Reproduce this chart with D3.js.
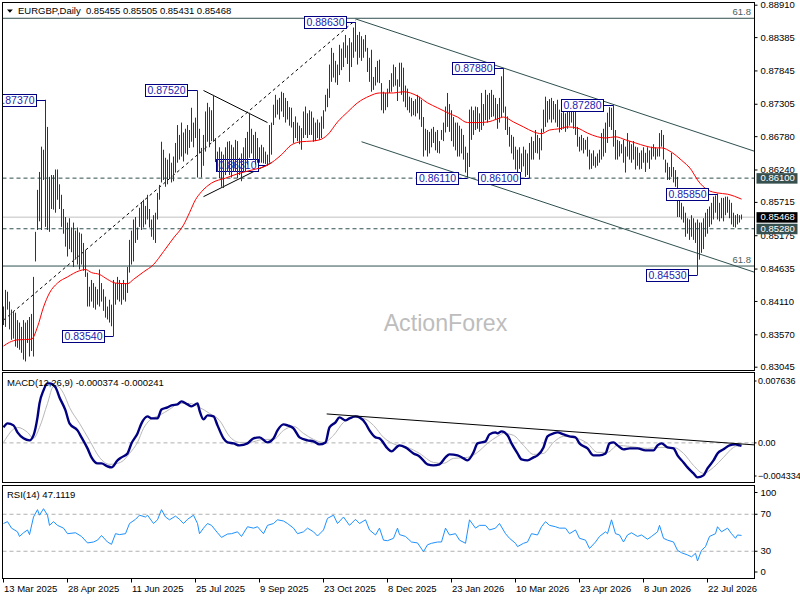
<!DOCTYPE html>
<html><head><meta charset="utf-8">
<script src="https://cdn.jsdelivr.net/npm/d3@7/dist/d3.min.js"></script>
<style>body{margin:0;background:#fff}svg{display:block}</style>
</head><body><svg id="c" width="800" height="600"></svg>
<script>
// ---------------- DATA ----------------
const symbol = "EURGBP,Daily";
const lastOHLC = [0.85455, 0.85505, 0.85431, 0.85468];
// daily highs / lows in pips (price * 10000)
const highPips = [
8402,8429,8426,8410,8397,8395,8392,8380,8376,8369,
8380,8376,8380,8385,8390,8450,8523,8591,8620,8661,
8656,8737,8693,8612,8615,8615,8624,8624,8600,8583,
8560,8547,8538,8545,8530,8538,8525,8530,8522,8520,
8505,8494,8457,8434,8445,8440,8434,8430,8462,8440,
8430,8418,8402,8413,8405,8445,8440,8450,8445,8440,
8445,8440,8466,8510,8525,8543,8547,8530,8562,8570,
8575,8565,8583,8560,8543,8550,8554,8586,8599,8669,
8656,8643,8640,8650,8635,8645,8667,8696,8680,8700,
8684,8690,8696,8688,8724,8700,8708,8752,8690,8659,
8680,8718,8732,8725,8720,8745,8675,8653,8660,8653,
8648,8660,8669,8670,8664,8660,8672,8670,8643,8650,
8660,8675,8685,8716,8690,8680,8685,8675,8660,8664,
8660,8653,8648,8696,8700,8729,8745,8737,8740,8750,
8748,8740,8735,8725,8724,8701,8710,8700,8695,8691,
8718,8726,8715,8720,8718,8708,8700,8705,8700,8710,
8720,8745,8755,8794,8821,8813,8800,8794,8826,8820,
8830,8842,8825,8837,8830,8854,8863,8842,8847,8840,
8835,8842,8821,8805,8818,8774,8790,8800,8802,8764,
8750,8748,8755,8769,8780,8794,8790,8770,8797,8797,
8789,8760,8755,8742,8740,8735,8738,8745,8742,8737,
8709,8690,8688,8685,8690,8693,8685,8688,8670,8688,
8700,8726,8748,8730,8720,8709,8700,8700,8695,8690,
8680,8661,8651,8721,8726,8720,8726,8725,8715,8748,
8730,8753,8745,8748,8753,8745,8740,8730,8740,8775,
8788,8726,8710,8693,8680,8677,8661,8656,8660,8650,
8661,8656,8650,8667,8677,8670,8688,8680,8675,8690,
8721,8742,8735,8738,8740,8735,8730,8737,8721,8716,
8725,8715,8725,8720,8721,8725,8725,8693,8677,8680,
8675,8672,8677,8656,8650,8655,8645,8650,8656,8683,
8690,8700,8716,8725,8724,8728,8688,8672,8670,8665,
8672,8661,8683,8670,8665,8670,8661,8660,8651,8655,
8660,8651,8660,8655,8661,8665,8660,8658,8683,8688,
8680,8640,8635,8628,8651,8628,8623,8612,8586,8570,
8564,8554,8545,8543,8550,8545,8538,8543,8538,8538,
8545,8554,8560,8564,8570,8580,8582,8585,8570,8578,
8578,8580,8580,8575,8570,8554,8550,8552,8550,8551];
const lowPips = [
8372,8369,8397,8365,8348,8350,8337,8335,8332,8327,
8316,8313,8343,8321,8330,8321,8475,8526,8540,8526,
8607,8531,8526,8523,8560,8559,8554,8575,8560,8531,
8520,8499,8483,8495,8490,8466,8478,8470,8462,8470,
8460,8450,8402,8402,8410,8400,8397,8405,8402,8410,
8395,8384,8381,8376,8370,8354,8405,8413,8410,8405,
8413,8410,8424,8457,8470,8475,8505,8510,8531,8526,
8530,8535,8543,8530,8515,8510,8505,8543,8575,8603,
8607,8596,8600,8610,8603,8605,8619,8635,8640,8645,
8637,8650,8648,8659,8669,8660,8675,8611,8650,8611,
8630,8653,8669,8660,8670,8669,8636,8620,8610,8596,
8594,8615,8620,8615,8611,8620,8620,8610,8615,8605,
8620,8620,8632,8643,8650,8640,8632,8635,8635,8635,
8634,8633,8631,8635,8648,8696,8708,8713,8705,8718,
8709,8700,8705,8695,8692,8667,8675,8670,8665,8656,
8675,8680,8675,8680,8680,8669,8670,8675,8672,8675,
8690,8718,8725,8740,8766,8773,8765,8761,8777,8785,
8790,8805,8795,8766,8790,8805,8815,8794,8805,8800,
8805,8815,8782,8766,8750,8753,8760,8765,8764,8720,
8715,8720,8725,8748,8750,8758,8760,8735,8758,8745,
8734,8725,8720,8716,8710,8712,8710,8715,8705,8693,
8645,8655,8645,8650,8660,8667,8655,8651,8650,8672,
8670,8684,8693,8685,8670,8661,8655,8645,8645,8650,
8640,8619,8611,8628,8672,8680,8688,8690,8685,8688,
8695,8704,8700,8705,8709,8710,8705,8690,8700,8709,
8716,8688,8680,8661,8650,8640,8624,8619,8625,8620,
8629,8612,8615,8610,8640,8640,8651,8650,8640,8655,
8684,8693,8700,8705,8700,8705,8700,8693,8684,8688,
8690,8685,8690,8695,8700,8690,8680,8661,8653,8655,
8650,8656,8645,8624,8625,8630,8627,8630,8635,8640,
8645,8651,8667,8693,8688,8661,8640,8640,8645,8650,
8635,8619,8645,8640,8635,8640,8624,8630,8624,8625,
8635,8620,8635,8625,8640,8645,8640,8645,8645,8661,
8640,8619,8607,8607,8612,8603,8596,8547,8547,8543,
8538,8515,8520,8510,8515,8510,8505,8453,8478,8489,
8495,8515,8520,8531,8535,8543,8554,8543,8540,8545,
8540,8550,8554,8545,8535,8531,8530,8535,8538,8543];
// moving average (red) read at bar indices: [bar, pips]
const maPips = [[0,8338],[3,8344],[7,8348],[14,8349],[17,8369],[20,8401],[23,8424],[27,8440],[32,8450],[38,8460],[41,8462],[44,8457],[48,8454],[52,8446],[56,8440],[62,8439],[65,8446],[70,8458],[75,8470],[80,8491],[85,8513],[90,8534],[93,8554],[96,8575],[99,8588],[104,8602],[111,8610],[117,8617],[124,8623],[132,8631],[139,8648],[144,8664],[149,8669],[154,8670],[158,8672],[162,8680],[167,8701],[172,8717],[177,8732],[183,8743],[188,8748],[195,8748],[200,8750],[207,8743],[212,8732],[217,8724],[222,8716],[227,8709],[232,8700],[237,8700],[242,8701],[247,8706],[250,8709],[255,8701],[260,8693],[265,8685],[269,8682],[273,8688],[278,8690],[282,8693],[287,8691],[292,8683],[297,8677],[301,8675],[306,8677],[311,8672],[316,8667],[321,8662],[326,8659],[329,8659],[334,8652],[339,8639],[344,8623],[347,8607],[352,8591],[357,8586],[362,8584],[369,8576]];
// MACD main and signal, in units of 1e-4: [bar, value]
const macdMain = [[0,19.1],[2,24.1],[5,21.6],[7,13.0],[10,5.6],[13,3.1],[15,9.3],[17,31.5],[18,48.7],[20,64.8],[22,73.4],[23,73.4],[26,68.5],[28,56.1],[31,40.1],[33,24.1],[37,15.4],[39,6.8],[42,-6.8],[44,-17.9],[47,-25.3],[49,-25.3],[52,-29.0],[54,-30.2],[57,-21.6],[59,-17.9],[62,-13.0],[64,-0.6],[67,11.7],[69,24.1],[72,32.7],[74,30.2],[77,30.2],[79,41.3],[82,43.8],[84,46.3],[87,47.5],[89,51.2],[92,47.5],[94,45.0],[97,48.7],[98,40.1],[100,29.0],[102,34.0],[105,32.7],[107,21.6],[110,5.6],[112,0.6],[115,-0.6],[118,-3.1],[122,-0.6],[125,5.6],[128,6.8],[132,0.6],[135,5.6],[137,15.4],[140,22.8],[142,21.6],[145,17.9],[148,6.8],[152,3.1],[155,1.9],[158,-1.9],[161,0.6],[163,19.1],[166,25.3],[168,31.5],[171,27.8],[173,30.2],[176,32.7],[178,31.5],[181,24.1],[183,15.4],[186,6.8],[188,5.6],[192,-6.8],[194,-10.5],[197,-4.3],[198,-3.1],[201,-5.6],[205,-13.0],[208,-16.7],[212,-26.5],[215,-27.8],[218,-26.5],[221,-17.9],[223,-14.2],[227,-15.4],[230,-19.1],[232,-21.6],[235,-11.7],[237,-0.6],[241,1.9],[243,10.5],[246,13.0],[247,11.7],[249,14.2],[252,9.3],[254,-0.6],[257,-13.0],[259,-20.4],[262,-21.6],[265,-17.9],[267,-15.4],[270,-5.6],[272,8.0],[275,11.7],[277,13.0],[280,10.5],[283,8.0],[286,6.8],[288,-0.6],[292,-6.8],[295,-15.4],[298,-15.4],[301,-13.0],[303,-0.6],[305,0.6],[307,-3.1],[310,-8.0],[313,-6.8],[317,-6.8],[321,-9.3],[325,-9.3],[327,-3.1],[329,-0.6],[332,-5.6],[335,-6.8],[337,-15.4],[340,-24.1],[342,-30.2],[345,-37.6],[347,-42.6],[350,-40.1],[352,-31.5],[355,-21.6],[357,-13.0],[360,-8.0],[363,-3.1],[366,-1.9],[368,-3.1],[369,-3.74]];
const macdSignal = [[0,0.6],[7,19.1],[12,13.0],[15,5.6],[18,19.1],[22,48.7],[25,69.7],[27,69.7],[30,61.1],[33,43.8],[38,24.1],[43,3.1],[48,-17.9],[53,-26.5],[57,-25.3],[60,-21.6],[63,-13.0],[67,0.6],[70,17.9],[73,27.8],[78,34.0],[83,41.3],[88,48.7],[93,48.7],[98,43.8],[103,36.4],[108,27.8],[113,8.0],[118,0.6],[123,0.6],[130,4.3],[135,4.3],[140,15.4],[145,20.4],[150,11.7],[155,4.3],[160,0.6],[165,9.3],[170,25.3],[175,31.5],[180,30.2],[185,21.6],[190,6.8],[197,-3.1],[202,-5.6],[208,-13.0],[215,-24.1],[220,-25.3],[225,-19.1],[232,-17.9],[237,-11.7],[242,-0.6],[247,8.0],[250,11.7],[255,9.3],[260,-3.1],[265,-14.2],[270,-13.0],[275,0.6],[280,8.0],[285,6.8],[292,-0.6],[297,-11.7],[302,-11.7],[307,-3.1],[313,-4.3],[322,-6.8],[328,-5.6],[335,-5.6],[340,-13.0],[345,-27.8],[350,-37.6],[355,-30.2],[360,-17.9],[365,-5.6],[369,-2.41]];
// RSI(14): [bar, value]
const rsiValues = [[0,60],[2,62],[4,55],[7,51],[8,46],[10,50],[12,53],[13,48],[15,67],[17,75],[18,69],[20,76],[22,69],[23,58],[25,62],[27,58],[30,55],[32,49],[36,50],[39,46],[42,39],[45,40],[47,42],[49,47],[52,40],[54,37.5],[56,49],[58,48],[61,49],[63,60],[66,64.5],[68,69],[71,67],[72,69],[75,60],[77,64],[79,75],[81,67],[83,64],[86,68],[88,64.5],[90,60],[92,64.5],[95,69],[97,60],[98,49],[100,55],[102,60],[104,58],[107,50],[109,45],[112,48.6],[114,49],[117,51],[119,46],[122,56.5],[125,55],[127,56.5],[130,49],[132,58],[135,60],[137,64],[140,62.7],[142,60],[145,55],[147,49],[150,51],[152,55],[155,51],[157,46.5],[160,53],[162,65.6],[165,69],[167,60],[170,67],[173,58],[176,64.5],[178,60],[181,64],[183,53],[186,47.6],[188,55],[190,42],[192,41.4],[195,44],[197,55],[198,48],[201,46],[204,40],[207,39],[210,29.5],[212,37],[214,38.6],[217,40],[219,40],[221,55],[223,47.6],[226,49],[228,42],[231,38.6],[233,64],[236,55],[238,58],[241,58],[243,53],[246,55],[248,60],[251,49],[253,44],[256,38.6],[257,35],[260,38.6],[262,40],[264,49],[267,47.6],[269,56.5],[271,62],[273,58],[276,56.5],[278,55],[281,55],[283,49],[286,53],[288,44],[291,42],[293,33],[296,40],[298,46],[301,51],[302,49],[304,64],[306,49],[308,47.6],[310,40],[312,47.6],[314,50],[317,46],[319,47.6],[322,43],[324,46],[327,51],[328,58],[330,44],[332,42],[335,40],[337,31],[339,28.4],[342,26],[344,24],[346,27.8],[347,19.5],[349,31],[351,35],[353,46],[356,49],[357,56.5],[359,51],[362,55],[364,49],[366,44],[367,47.6],[369,47.11]];
const macdLast = [-0.000374, -0.000241];
const rsiLast = 47.1119;
const priceTicks = [0.88910,0.88385,0.87845,0.87305,0.86780,0.86240,0.85715,0.85175,0.84635,0.84110,0.83570,0.83045];
const macdTicks = [0.007636, 0, -0.004334];
const rsiTicks = [100, 70, 30, 0];
const rsiLevels = [70, 30];
const dateLabels = ["13 Mar 2025","28 Apr 2025","11 Jun 2025","25 Jul 2025","9 Sep 2025","23 Oct 2025","8 Dec 2025","23 Jan 2026","10 Mar 2026","23 Apr 2026","8 Jun 2026","22 Jul 2026"];
const barsPerDateLabel = 32;
// swing labels: [bar, text]
const swingLabels = [[21,"0.87370"],[55,"0.83540"],[97,"0.87520"],[176,"0.88630"],[232,"0.86110"],[250,"0.87880"],[263,"0.86100"],[305,"0.87280"],[347,"0.84530"],[357,"0.85850"]];
const swingLabelsBehind = [[132,"0.86310"]];
const fibLevels = [0.88690, 0.84676];
const fibText = "61.8";
const dashedLevels = [0.86100, 0.85280];
const markedPrices = [0.86100, 0.85280];
// trend lines [bar1, price1, bar2, price2]
const dottedLines = [[0,0.8380,176,0.8866]];
const blackLines = [[100,0.8752,132,0.8700],[100,0.8580,134,0.8635]];
const channelLines = [[176,0.8868,376,0.8653],[179,0.8669,376,0.8457]];
const macdTrend = [[161.6,0.00357,376,-0.00026]];

// ---------------- LAYOUT ----------------
const FONT = '"Liberation Sans", Arial, sans-serif';
const plotL = 2.5, plotR = 754.5;
const pTop = 2.5, pBot = 370.5, mTop = 372.5, mBot = 482.5, rTop = 485.5, rBot = 578.5;
const nBars = highPips.length;
const x = d3.scaleLinear().domain([0, nBars - 1]).range([3.5, 3.5 + 2 * (nBars - 1)]);
const y = d3.scaleLinear().domain([0.83045, 0.88910]).range([366.7, 4.7]);
const yM = d3.scaleLinear().domain([-0.004334, 0.007636]).range([478, 381]);
const yR = d3.scaleLinear().domain([0, 100]).range([579, 486.5]);

const SLATE = "#2f4f4f", BAR = "#1d3a52", NAVY = "#000080";
const svg = d3.select("#c");
svg.append("rect").attr("width", 800).attr("height", 600).attr("fill", "#fff");
const defs = svg.append("defs");
[["clipP", pTop, pBot], ["clipM", mTop, mBot], ["clipR", rTop, rBot]].forEach(([id, t, b]) => {
  defs.append("clipPath").attr("id", id).append("rect")
    .attr("x", plotL + 0.5).attr("y", t + 0.5).attr("width", plotR - plotL - 1).attr("height", b - t - 1);
});

// ---------------- PRICE PANEL ----------------
const gP = svg.append("g").attr("clip-path", "url(#clipP)");
gP.append("text").attr("x", 445.5).attr("y", 330.5).attr("text-anchor", "middle")
  .attr("font-family", FONT).attr("font-size", 23.2).attr("fill", "#bdbdbd").text("ActionForex");

// bid line
gP.append("line").attr("x1", plotL).attr("x2", plotR).attr("y1", y(lastOHLC[3])).attr("y2", y(lastOHLC[3]))
  .attr("stroke", "#c0c0c0").attr("stroke-width", 1);
// dashed levels
gP.selectAll(".dl").data(dashedLevels).join("line")
  .attr("x1", plotL).attr("x2", plotR).attr("y1", d => y(d)).attr("y2", d => y(d))
  .attr("stroke", SLATE).attr("stroke-dasharray", "4,3").attr("stroke-width", 1);
// fib levels
gP.selectAll(".fl").data(fibLevels).join("line")
  .attr("x1", plotL).attr("x2", plotR).attr("y1", d => y(d)).attr("y2", d => y(d))
  .attr("stroke", SLATE).attr("stroke-width", 1);
gP.selectAll(".ft").data(fibLevels).join("text")
  .attr("x", 751).attr("y", d => y(d) - 3).attr("text-anchor", "end")
  .attr("font-family", FONT).attr("font-size", 9.5).attr("fill", "#4a5e5e").text(fibText);

function seg(g, lines, stroke, dash) {
  g.selectAll(null).data(lines).join("line")
    .attr("x1", d => x(d[0])).attr("y1", d => y(d[1])).attr("x2", d => x(d[2])).attr("y2", d => y(d[3]))
    .attr("stroke", stroke).attr("stroke-width", 1).attr("stroke-dasharray", dash);
}
seg(gP, channelLines, SLATE, null);
seg(gP, dottedLines, "#000", "3,3");
seg(gP, blackLines, "#000", null);

function drawLabels(g, list) {
  list.forEach(([i, txt]) => {
    const p = +txt, cx = x(i), cy = Math.round(y(p)) + 0.5;
    const bw = 42, bh = 12, right = Math.round(cx - 10) + 0.5;
    g.append("line").attr("x1", right).attr("x2", cx).attr("y1", cy).attr("y2", cy).attr("stroke", NAVY);
    g.append("rect").attr("x", right - bw).attr("y", cy - bh / 2).attr("width", bw).attr("height", bh)
      .attr("fill", "#fff").attr("stroke", NAVY).attr("stroke-width", 1);
    g.append("text").attr("x", right - bw / 2).attr("y", cy).attr("dy", "0.36em").attr("text-anchor", "middle")
      .attr("font-family", FONT).attr("font-size", 10.5).attr("fill", "#1c1cb0").text(txt);
  });
}
drawLabels(gP, swingLabelsBehind);

// bars
const bars = highPips.map((h, i) => ({ i, hi: h / 1e4, lo: lowPips[i] / 1e4 }));
gP.append("g").selectAll("line").data(bars).join("line")
  .attr("x1", d => x(d.i)).attr("x2", d => x(d.i))
  .attr("y1", d => y(d.hi)).attr("y2", d => Math.max(y(d.lo), y(d.hi) + 1))
  .attr("stroke", BAR).attr("stroke-width", 1);

// moving average
gP.append("path").datum(maPips)
  .attr("d", d3.line().x(d => x(d[0])).y(d => y(d[1] / 1e4)).curve(d3.curveMonotoneX))
  .attr("fill", "none").attr("stroke", "#ff0000").attr("stroke-width", 1);

drawLabels(gP, swingLabels);

// header
svg.append("path").attr("d", "M7,9.5 L12.8,9.5 L9.9,12.8 Z").attr("fill", "#000");
svg.append("text").attr("x", 18).attr("y", 14.3).attr("font-family", FONT).attr("font-size", 9.5)
  .style("white-space", "pre").attr("fill", "#000")
  .text(symbol + "  " + lastOHLC.map(v => v.toFixed(5)).join(" "));

// ---------------- MACD PANEL ----------------
const gM = svg.append("g").attr("clip-path", "url(#clipM)");
gM.append("line").attr("x1", plotL).attr("x2", plotR).attr("y1", yM(0)).attr("y2", yM(0))
  .attr("stroke", "#b0b0b0").attr("stroke-dasharray", "4,3");
gM.append("path").datum(macdSignal)
  .attr("d", d3.line().x(d => x(d[0])).y(d => yM(d[1] * 1e-4)).curve(d3.curveMonotoneX))
  .attr("fill", "none").attr("stroke", "#b8b8b8").attr("stroke-width", 1);
gM.append("path").datum(macdMain)
  .attr("d", d3.line().x(d => x(d[0])).y(d => yM(d[1] * 1e-4)).curve(d3.curveMonotoneX))
  .attr("fill", "none").attr("stroke", NAVY).attr("stroke-width", 2.4).attr("stroke-linejoin", "round");
gM.selectAll(null).data(macdTrend).join("line")
  .attr("x1", d => x(d[0])).attr("y1", d => yM(d[1])).attr("x2", d => x(d[2])).attr("y2", d => yM(d[3]))
  .attr("stroke", "#000").attr("stroke-width", 1);
svg.append("text").attr("x", 7).attr("y", 385.5).attr("font-family", FONT).attr("font-size", 9.5).attr("fill", "#000")
  .text("MACD(12,26,9) " + macdLast.map(v => v.toFixed(6)).join(" "));

// ---------------- RSI PANEL ----------------
const gR = svg.append("g").attr("clip-path", "url(#clipR)");
gR.selectAll(null).data(rsiLevels).join("line")
  .attr("x1", plotL).attr("x2", plotR).attr("y1", d => yR(d)).attr("y2", d => yR(d))
  .attr("stroke", "#b0b0b0").attr("stroke-dasharray", "4,3");
gR.append("path").datum(rsiValues)
  .attr("d", d3.line().x(d => x(d[0])).y(d => yR(d[1])))
  .attr("fill", "none").attr("stroke", "#1e90ff").attr("stroke-width", 1);
svg.append("text").attr("x", 7).attr("y", 497.5).attr("font-family", FONT).attr("font-size", 9.5).attr("fill", "#000")
  .text("RSI(14) " + rsiLast.toFixed(4));

// ---------------- BORDERS ----------------
[[pTop, pBot], [mTop, mBot], [rTop, rBot]].forEach(([t, b]) => {
  svg.append("rect").attr("x", plotL).attr("y", t).attr("width", plotR - plotL).attr("height", b - t)
    .attr("fill", "none").attr("stroke", "#000").attr("stroke-width", 1);
});

// ---------------- AXES ----------------
function styleAxis(g, size) {
  g.attr("font-family", null).attr("font-size", null);
  g.select(".domain").remove();
  g.selectAll("text").attr("font-family", FONT).attr("font-size", size || 9.5).attr("fill", "#000");
  g.selectAll("line").attr("stroke", "#000");
}
const gY = svg.append("g").attr("transform", `translate(${plotR},0)`)
  .call(d3.axisRight(y).tickValues(priceTicks).tickSize(3).tickPadding(3).tickFormat(d3.format(".5f")));
styleAxis(gY);
// marked price boxes
function priceBox(p, fill) {
  const cy = y(p);
  svg.append("rect").attr("x", 756.5).attr("y", cy - 5).attr("width", 41).attr("height", 10.5).attr("fill", fill);
  svg.append("text").attr("x", 760.5).attr("y", cy).attr("dy", "0.34em").attr("font-family", FONT)
    .attr("font-size", 9.5).attr("fill", "#fff").text(p.toFixed(5));
}
markedPrices.forEach(p => priceBox(p, "#36504f"));
priceBox(lastOHLC[3], "#000");

const gYM = svg.append("g").attr("transform", `translate(${plotR},0)`)
  .call(d3.axisRight(yM).tickValues(macdTicks).tickSize(2).tickPadding(1.5)
    .tickFormat(d => d === 0 ? "0.00" : d3.format(".6f")(d)));
styleAxis(gYM, 9);
gYM.selectAll(".tick").attr("transform", d => `translate(0,${Math.min(Math.max(yM(d), mTop + 7), mBot - 6.5)})`);

const gYR = svg.append("g").attr("transform", `translate(${plotR},0)`)
  .call(d3.axisRight(yR).tickValues(rsiTicks).tickSize(3).tickPadding(3).tickFormat(d3.format("d")));
styleAxis(gYR);
gYR.selectAll(".tick").attr("transform", d => `translate(0,${Math.min(Math.max(yR(d), rTop + 7), rBot - 6.5)})`);

const gX = svg.append("g").attr("transform", `translate(-0.5,${rBot})`)
  .call(d3.axisBottom(x).tickValues(dateLabels.map((_, k) => k * barsPerDateLabel)).tickSize(4).tickPadding(3)
    .tickFormat((d, k) => dateLabels[k]));
styleAxis(gX);
gX.selectAll("text").attr("text-anchor", "start").attr("x", 0.5);
</script>
</body></html>
